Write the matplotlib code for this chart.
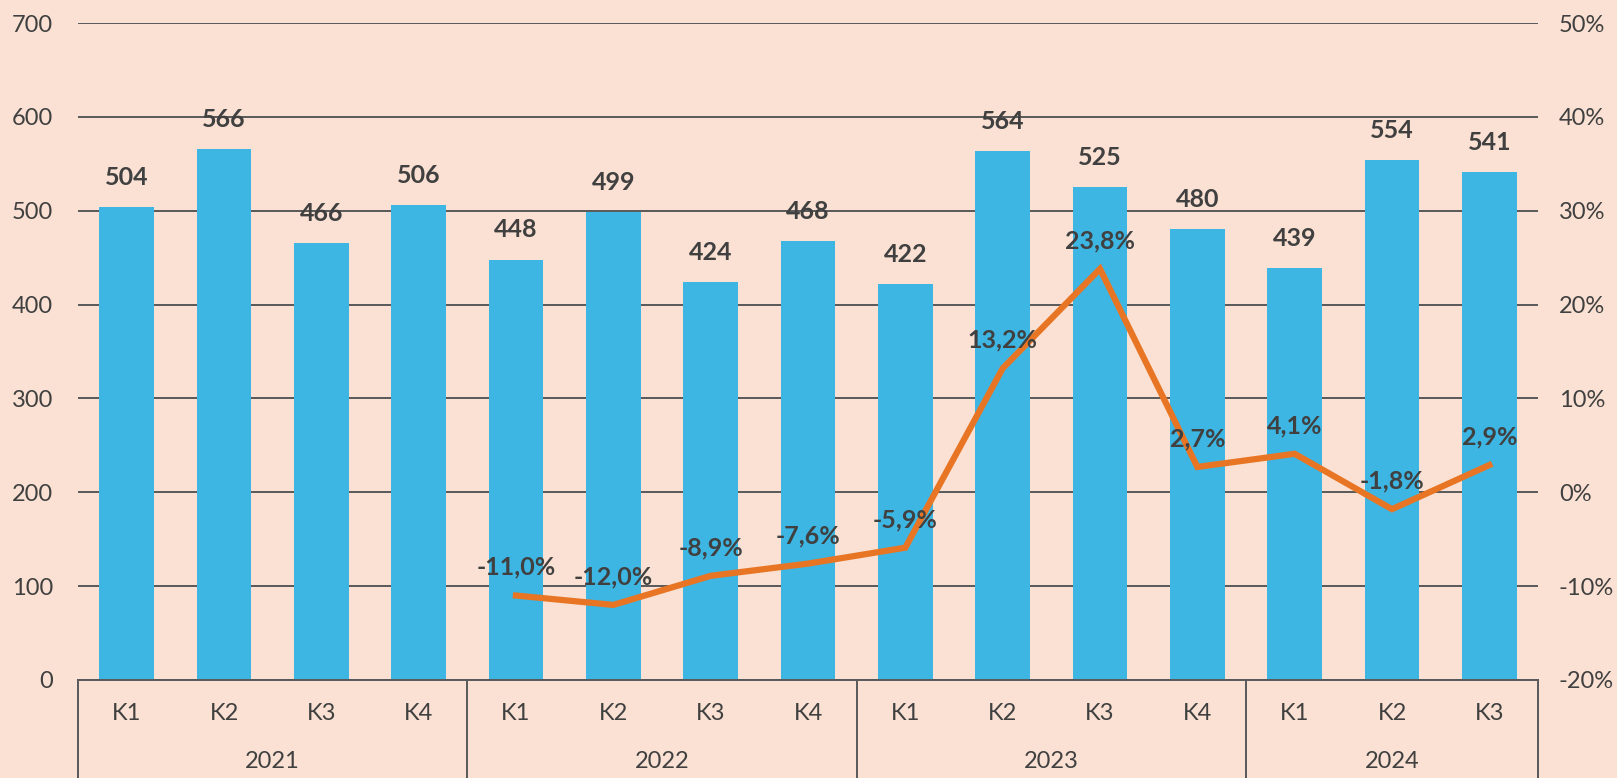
import numpy as np
import matplotlib.pyplot as plt
from matplotlib.transforms import blended_transform_factory

years = ["2021", "2022", "2023", "2024"]
quarters = ["K1", "K2", "K3", "K4", "K1", "K2", "K3", "K4",
            "K1", "K2", "K3", "K4", "K1", "K2", "K3"]
values = [504, 566, 466, 506, 448, 499, 424, 468, 422, 564, 525, 480, 439, 554, 541]
growth = [-11.0, -12.0, -8.9, -7.6, -5.9, 13.2, 23.8, 2.7, 4.1, -1.8, 2.9]
growth_start = 4
group_sizes = [4, 4, 4, 3]

bg = "#FAE1D3"
bar_col = "#3EB6E4"
line_col = "#E87524"
txt = "#404040"

plt.rcParams['font.family'] = ['Lato', 'DejaVu Sans']

fig = plt.figure(figsize=(16.17, 7.78), dpi=100, facecolor=bg)
W, H = 1617, 778
x0, x1, ytop, ybot = 78, 1538, 23, 680
ax = fig.add_axes([x0 / W, (H - ybot) / H, (x1 - x0) / W, (ybot - ytop) / H])
ax.set_facecolor(bg)

x = np.arange(len(values))
ax.bar(x, values, width=0.56, color=bar_col, zorder=2)
ax.set_xlim(-0.5, len(values) - 0.5)
ax.set_ylim(0, 700)
ax.set_yticks(range(0, 701, 100))
ax.yaxis.grid(True, color="#595959", linewidth=1.4, zorder=0)
ax.set_axisbelow(True)
for s in ["top", "right", "left"]:
    ax.spines[s].set_visible(False)
ax.spines["bottom"].set_color("#595959")
ax.spines["bottom"].set_linewidth(1.4)
ax.tick_params(axis="y", length=0, pad=18, labelsize=17, labelcolor=txt)
ax.set_xticks([])

for xi, v in zip(x, values):
    ax.annotate(str(v), (xi, v), xytext=(0, 13), textcoords="offset points",
                ha="center", va="bottom", fontsize=18, fontweight="bold", color=txt)

ax2 = ax.twinx()
ax2.set_ylim(-20, 50)
ax2.set_yticks(range(-20, 51, 10))
ax2.set_yticklabels([f"{t}%" for t in range(-20, 51, 10)])
for s in ax2.spines.values():
    s.set_visible(False)
ax2.tick_params(axis="y", length=0, pad=15, labelsize=17, labelcolor=txt)
gx = x[growth_start:growth_start + len(growth)]
ax2.plot(gx, growth, color=line_col, linewidth=4.5, solid_joinstyle="miter", zorder=3)
for xi, g in zip(gx, growth):
    ax2.annotate(f"{g:.1f}%".replace(".", ","), (xi, g), xytext=(0, 12),
                 textcoords="offset points", ha="center", va="bottom",
                 fontsize=18, fontweight="bold", color=txt)

# two-level category axis
trans = blended_transform_factory(ax.transData, ax.transAxes)
h = ybot - ytop
depth = (H - ybot) / h
k_y = -33 / h
yr_y = -82 / h
for xi, q in zip(x, quarters):
    ax.text(xi, k_y, q, transform=trans, ha="center", va="center", fontsize=17, color=txt)
edges = np.concatenate([[0], np.cumsum(group_sizes)]) - 0.5
for e in edges:
    ax.plot([e, e], [0, -depth], transform=trans, color="#595959", linewidth=1.4, clip_on=False)
for i, yr in enumerate(years):
    mid = (edges[i] + edges[i + 1]) / 2
    ax.text(mid, yr_y, yr, transform=trans, ha="center", va="center", fontsize=17, color=txt)

fig.savefig("out.png", dpi=100, facecolor=bg)
